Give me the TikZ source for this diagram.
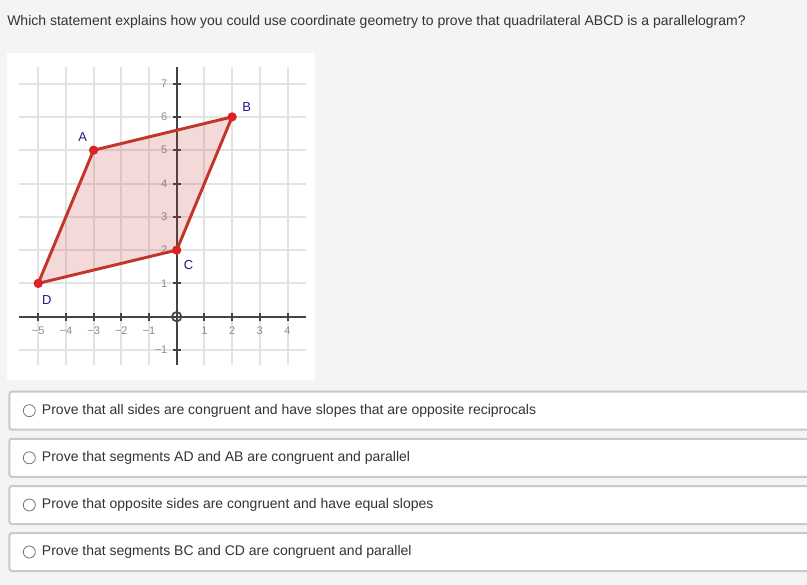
\documentclass[tikz,border=0pt]{standalone}
\usepackage{fontspec}
\setmainfont{Liberation Sans}
\usetikzlibrary{positioning}
\definecolor{pagebg}{HTML}{F4F4F4}
\definecolor{gridgray}{HTML}{E3E3E3}
\definecolor{axisgray}{HTML}{444444}
\definecolor{ticktext}{HTML}{8C8C8C}
\definecolor{edgered}{HTML}{C2352B}
\definecolor{dotred}{HTML}{DC2127}
\definecolor{labelblue}{HTML}{1C1A8A}
\definecolor{boxgray}{HTML}{C9C9C9}
\definecolor{bodytext}{HTML}{333333}
\tikzstyle{question} = [
	anchor=west,
	inner sep=0pt,
	text=bodytext,
	font=\fontsize{10.5}{12}\selectfont
]
\tikzstyle{choicebox} = [
	rectangle,
	anchor=west,
	rounded corners=2pt,
	minimum width=616pt,
	minimum height=28.5pt,
	draw=boxgray,
	line width=1.5pt,
	fill=white
]
\tikzstyle{radio} = [
	circle,
	minimum size=9pt,
	inner sep=0pt,
	draw=black!55,
	line width=0.6pt,
	fill=white
]
\tikzstyle{choicetext} = [
	anchor=west,
	inner sep=0pt,
	text=bodytext,
	font=\fontsize{10.5}{12}\selectfont
]
\tikzstyle{gridline} = [gridgray, line width=1.5pt]
\tikzstyle{axis} = [axisgray, line width=1.5pt]
\tikzstyle{ticklabel} = [text=ticktext, inner sep=0pt, font=\fontsize{8.25}{10}\selectfont]
\tikzstyle{side} = [draw=edgered, line width=2.2pt, line join=round, fill=edgered, fill opacity=0.18]
\tikzstyle{point} = [circle, fill=dotred, minimum size=7pt, inner sep=0pt]
\tikzstyle{ptlabel} = [text=labelblue, inner sep=0pt, font=\fontsize{9.75}{12}\selectfont]

\begin{document}
\begin{tikzpicture}[x=0.75pt, y=-0.75pt]
		\useasboundingbox [fill=pagebg] (0,0) rectangle (807,585);
		\clip (0,0) rectangle (807,585);
		\node (title) [question] at (7,22) {Which statement explains how you could use coordinate geometry to prove that quadrilateral ABCD is a parallelogram?};
		\fill [white] (6.7,53.3) rectangle (315,380);

		\begin{scope}[shift={(176.7,316.7)}, x=20.775pt, y=24.975pt]
			\foreach \gx in {-5,...,4}
				\draw [gridline] (\gx,-1.45) -- (\gx,7.5);
			\foreach \gy in {-1,...,7}
				\draw [gridline] (-5.68,\gy) -- (4.67,\gy);
			\draw [axis] (-5.68,0) -- (4.67,0);
			\draw [axis] (0,-1.45) -- (0,7.5);
			\foreach \gx/\txt in {-5/−5,-4/−4,-3/−3,-2/−2,-1/−1,1/1,2/2,3/3,4/4} {
				\draw [axis] (\gx,-0.12) -- (\gx,0.12);
				\node (xtick\gx) [ticklabel] at (\gx,-0.42) {\txt};
			}
			\foreach \gy/\txt in {-1/−1,1/1,2/2,3/3,4/4,5/5,6/6,7/7} {
				\draw [axis] (-0.145,\gy) -- (0.145,\gy);
				\node (ytick\gy) [ticklabel, anchor=east] at (-0.33,\gy) {\txt};
			}
			\node (origin) [circle, draw=axisgray, line width=1.3pt, minimum size=7pt, inner sep=0pt] at (0,0) {};

			% parallelogram ABCD
			\coordinate (A) at (-3,5);
			\coordinate (B) at (2,6);
			\coordinate (C) at (0,2);
			\coordinate (D) at (-5,1);
			\draw [side] (A) -- (B) -- (C) -- (D) -- cycle;
			\node (dotA) [point] at (A) {};
			\node (dotB) [point] at (B) {};
			\node (dotC) [point] at (C) {};
			\node (dotD) [point] at (D) {};
			\node (labelA) [ptlabel] at (-3.39,5.39) {A};
			\node (labelB) [ptlabel] at (2.53,6.29) {B};
			\node (labelC) [ptlabel] at (0.43,1.55) {C};
			\node (labelD) [ptlabel] at (-4.69,0.50) {D};
		\end{scope}

		% answer choices
		\node (box1) [choicebox] at (8.3,410.7) {};
		\node (box2) [choicebox] at (8.3,457.8) {};
		\node (box3) [choicebox] at (8.3,505) {};
		\node (box4) [choicebox] at (8.3,552) {};
		\node (radio1) [radio] at (29.3,410.7) {};
		\node (radio2) [radio] at (29.3,457.8) {};
		\node (radio3) [radio] at (29.3,505) {};
		\node (radio4) [radio] at (29.3,552) {};
		\node (choice1) [choicetext, right=4.5pt of radio1] {Prove that all sides are congruent and have slopes that are opposite reciprocals};
		\node (choice2) [choicetext, right=4.5pt of radio2] {Prove that segments AD and AB are congruent and parallel};
		\node (choice3) [choicetext, right=4.5pt of radio3] {Prove that opposite sides are congruent and have equal slopes};
		\node (choice4) [choicetext, right=4.5pt of radio4] {Prove that segments BC and CD are congruent and parallel};
	\end{tikzpicture}
\end{document}
